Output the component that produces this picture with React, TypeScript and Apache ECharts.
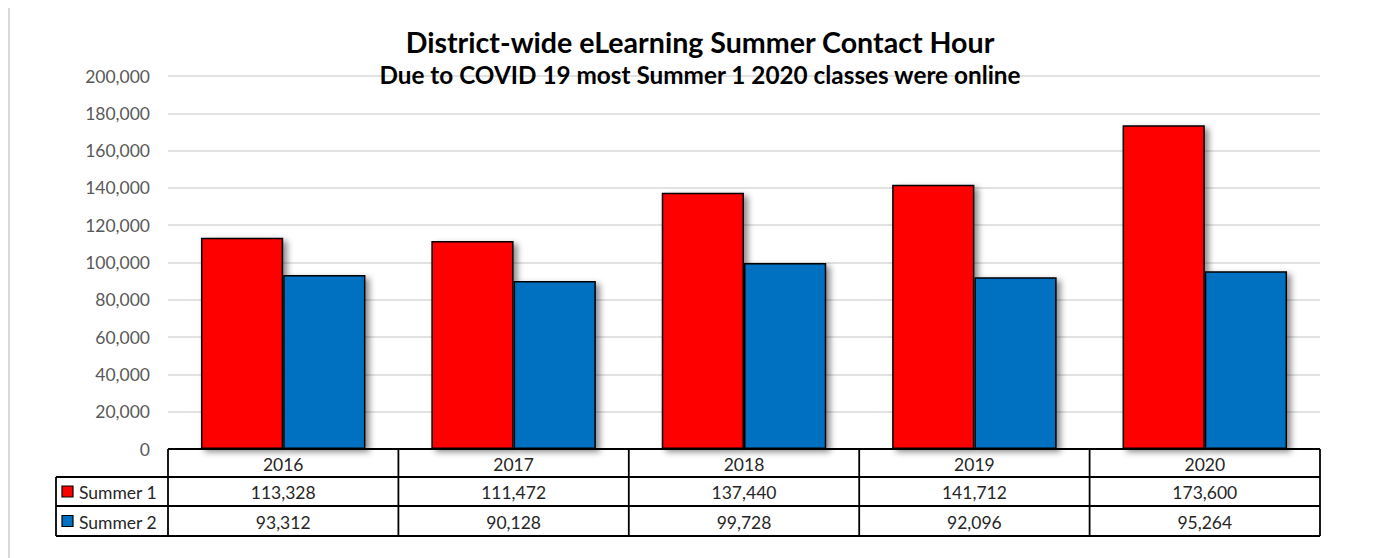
import React, { useEffect, useRef } from "react";
import * as echarts from "echarts";

const categories = ["2016", "2017", "2018", "2019", "2020"];
const seriesNames = ["Summer 1", "Summer 2"];
const summer1 = [113328, 111472, 137440, 141712, 173600];
const summer2 = [93312, 90128, 99728, 92096, 95264];
const seriesColors = ["#ff0000", "#0070c0"];
const titleText = "District-wide eLearning Summer Contact Hour";
const subtitleText = "Due to COVID 19 most Summer 1 2020 classes were online";

const FONT = "Lato, 'Liberation Sans', sans-serif";
const fmt = (v: number) => v.toLocaleString("en-US");

export default function App() {
  const ref = useRef<HTMLDivElement>(null);
  useEffect(() => {
    if (!ref.current) return;
    const chart = echarts.init(ref.current, undefined, { renderer: "svg" });
    const barStyle = (color: string) => ({
      color,
      borderColor: "#000",
      borderWidth: 1.5,
      shadowColor: "rgba(0,0,0,0.45)",
      shadowBlur: 6,
      shadowOffsetX: 4,
      shadowOffsetY: 3,
    });
    chart.setOption({
      animation: false,
      textStyle: { fontFamily: FONT },
      grid: { left: 160, width: 1152, top: 70, height: 373, containLabel: false },
      xAxis: {
        type: "category",
        data: categories,
        axisLine: { show: false },
        axisTick: { show: false },
        axisLabel: { show: false },
      },
      yAxis: {
        type: "value",
        min: 0,
        max: 200000,
        interval: 20000,
        axisLine: { show: false },
        axisTick: { show: false },
        axisLabel: { formatter: (v: number) => fmt(v), color: "#595959", fontSize: 17.5, margin: 18, fontFamily: FONT },
        splitLine: { lineStyle: { color: "#d9d9d9", width: 1.5 } },
      },
      series: [
        {
          name: seriesNames[0],
          type: "bar",
          data: summer1,
          barGap: "0%",
          barCategoryGap: "28.6%",
          itemStyle: barStyle(seriesColors[0]),
        },
        {
          name: seriesNames[1],
          type: "bar",
          data: summer2,
          barGap: "0%",
          barCategoryGap: "28.6%",
          itemStyle: barStyle(seriesColors[1]),
        },
      ],
    });

    // Build data table below the plot from axis pixel positions
    const c0 = chart.convertToPixel({ xAxisIndex: 0 }, categories[0]) as number;
    const c1 = chart.convertToPixel({ xAxisIndex: 0 }, categories[1]) as number;
    const cw = c1 - c0;
    const gx0 = c0 - cw / 2;
    const gxEnd = gx0 + cw * categories.length;
    const y0 = chart.convertToPixel({ yAxisIndex: 0 }, 0) as number;
    const rowYs = [y0, y0 + 28, y0 + 57, y0 + 87];
    const legendX = gx0 - 112;
    const lineStyle = { stroke: "#000", lineWidth: 1.8 };
    const g: any[] = [];
    // outer chart border (top & left)
    g.push({ type: "line", shape: { x1: 1, y1: 1, x2: 1400, y2: 1 }, style: { stroke: "#d9d9d9", lineWidth: 2 } });
    g.push({ type: "line", shape: { x1: 1, y1: 1, x2: 1, y2: 600 }, style: { stroke: "#d9d9d9", lineWidth: 2 } });
    // titles
    g.push({
      type: "text",
      x: 692,
      y: 36,
      z: 10,
      style: { text: titleText, align: "center", verticalAlign: "middle", fontSize: 28.6, fontWeight: "bold", fontFamily: FONT, fill: "#000" },
    });
    g.push({
      type: "text",
      x: 692,
      y: 68,
      z: 10,
      style: { text: subtitleText, align: "center", verticalAlign: "middle", fontSize: 24.3, fontWeight: "bold", fontFamily: FONT, fill: "#000" },
    });
    // horizontal lines
    g.push({ type: "line", shape: { x1: gx0, y1: rowYs[0], x2: gxEnd, y2: rowYs[0] }, style: lineStyle });
    for (let r = 1; r < rowYs.length; r++) {
      g.push({ type: "line", shape: { x1: legendX, y1: rowYs[r], x2: gxEnd, y2: rowYs[r] }, style: lineStyle });
    }
    // vertical lines
    g.push({ type: "line", shape: { x1: legendX, y1: rowYs[1], x2: legendX, y2: rowYs[3] }, style: lineStyle });
    for (let i = 0; i <= categories.length; i++) {
      const x = gx0 + i * cw;
      g.push({ type: "line", shape: { x1: x, y1: rowYs[0], x2: x, y2: rowYs[3] }, style: lineStyle });
    }
    const cellText = (x: number, y: number, text: string, align = "center") => ({
      type: "text",
      x,
      y,
      style: {
        text,
        align,
        verticalAlign: "middle",
        fontSize: 17.5,
        fontFamily: FONT,
        fill: "#262626",
      },
    });
    categories.forEach((cat, i) => {
      const cx = gx0 + (i + 0.5) * cw;
      g.push(cellText(cx, (rowYs[0] + rowYs[1]) / 2 + 1, cat));
      g.push(cellText(cx, (rowYs[1] + rowYs[2]) / 2 + 1, fmt(summer1[i])));
      g.push(cellText(cx, (rowYs[2] + rowYs[3]) / 2 + 1, fmt(summer2[i])));
    });
    seriesNames.forEach((name, s) => {
      const cy = (rowYs[s + 1] + rowYs[s + 2]) / 2;
      g.push({
        type: "rect",
        shape: { x: legendX + 6, y: cy - 5.5, width: 11, height: 11 },
        style: { fill: seriesColors[s], stroke: "#000", lineWidth: 1.2 },
      });
      g.push(cellText(legendX + 23, cy + 1, name, "left"));
    });
    chart.setOption({ graphic: g });

    return () => chart.dispose();
  }, []);
  return <div ref={ref} style={{ width: 1370, height: 552, marginTop: -2 }} />;
}
